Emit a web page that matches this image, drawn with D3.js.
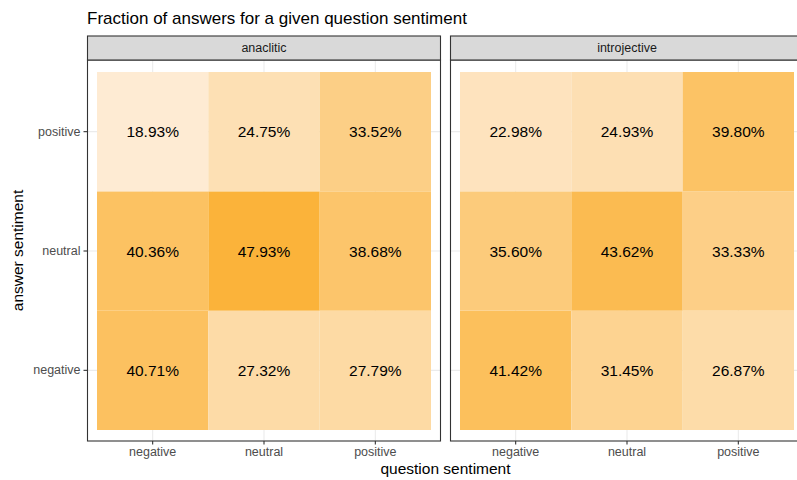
<!DOCTYPE html>
<html><head><meta charset="utf-8">
<script src="https://cdn.jsdelivr.net/npm/d3@7"></script>
<style>body{margin:0;background:#fff}svg{display:block;font-family:"Liberation Sans",Arial,sans-serif}</style>
</head><body><svg id="c" width="797" height="480"></svg>
<script>
const facets = ["anaclitic", "introjective"];
const questionCats = ["negative", "neutral", "positive"];
const answerCats = ["negative", "neutral", "positive"];
// values[facet][answer][question], percent
const anacliticPositive = [18.93, 24.75, 33.52];
const anacliticNeutral  = [40.36, 47.93, 38.68];
const anacliticNegative = [40.71, 27.32, 27.79];
const introjectivePositive = [22.98, 24.93, 39.80];
const introjectiveNeutral  = [35.60, 43.62, 33.33];
const introjectiveNegative = [41.42, 31.45, 26.87];

const tableRows = {
  anaclitic: {positive: anacliticPositive, neutral: anacliticNeutral, negative: anacliticNegative},
  introjective: {positive: introjectivePositive, neutral: introjectiveNeutral, negative: introjectiveNegative}
};
const cells = [];
facets.forEach(f => answerCats.forEach(a => questionCats.forEach((q, i) => cells.push({facet: f, answer: a, question: q, value: tableRows[f][a][i]}))));

const svg = d3.select("#c");
const panelW = 354, panelTop = 60, panelBot = 441, stripTop = 36;
const panelLeft = {anaclitic: 87, introjective: 450};
const vals = cells.map(d => d.value);
const color = d3.scaleLinear().domain([d3.min(vals), d3.max(vals)]).range(["#FEEBD3", "#FBB33A"]).interpolate(d3.interpolateRgb);

const y = d3.scaleBand().domain(["positive", "neutral", "negative"]).range([panelTop + 12, panelBot - 11]).paddingInner(0);

svg.append("text").attr("x", 87).attr("y", 24).attr("font-size", 17).attr("fill", "#000").text("Fraction of answers for a given question sentiment");

facets.forEach(f => {
  const L = panelLeft[f];
  const x = d3.scaleBand().domain(questionCats).range([L + 10, L + panelW - 10]).paddingInner(0);
  const g = svg.append("g");
  g.append("rect").attr("x", L).attr("y", panelTop).attr("width", panelW).attr("height", panelBot - panelTop).attr("fill", "#fff");
  questionCats.forEach(q => g.append("line").attr("x1", x(q) + x.bandwidth()/2).attr("x2", x(q) + x.bandwidth()/2).attr("y1", panelTop).attr("y2", panelBot).attr("stroke", "#EBEBEB").attr("stroke-width", 1.1));
  answerCats.forEach(a => g.append("line").attr("y1", y(a) + y.bandwidth()/2).attr("y2", y(a) + y.bandwidth()/2).attr("x1", L).attr("x2", L + panelW).attr("stroke", "#EBEBEB").attr("stroke-width", 1.1));
  const data = cells.filter(d => d.facet === f);
  g.selectAll("rect.tile").data(data).join("rect").attr("class", "tile")
    .attr("x", d => x(d.question)).attr("y", d => y(d.answer))
    .attr("width", x.bandwidth()).attr("height", y.bandwidth())
    .attr("fill", d => color(d.value));
  g.selectAll("text.lab").data(data).join("text").attr("class", "lab")
    .attr("x", d => x(d.question) + x.bandwidth()/2).attr("y", d => y(d.answer) + y.bandwidth()/2)
    .attr("text-anchor", "middle").attr("dominant-baseline", "central")
    .attr("font-size", 15.5).attr("fill", "#000")
    .text(d => d.value.toFixed(2) + "%");
  g.append("rect").attr("x", L + 0.5).attr("y", panelTop).attr("width", panelW - 1).attr("height", panelBot - panelTop).attr("fill", "none").attr("stroke", "#333333").attr("stroke-width", 1.1);
  g.append("rect").attr("x", L + 0.5).attr("y", stripTop).attr("width", panelW - 1).attr("height", panelTop - stripTop).attr("fill", "#D9D9D9").attr("stroke", "#333333").attr("stroke-width", 1.1);
  g.append("text").attr("x", L + panelW/2).attr("y", (stripTop + panelTop)/2).attr("text-anchor", "middle").attr("dominant-baseline", "central").attr("font-size", 12.5).attr("fill", "#1A1A1A").text(f);
  const xa = svg.append("g").attr("transform", `translate(0,${panelBot})`).call(d3.axisBottom(x).tickSize(3.5).tickPadding(3));
  xa.select(".domain").remove();
  xa.selectAll("line").attr("stroke", "#333333").attr("stroke-width", 1.1);
  xa.selectAll("text").attr("font-size", 12.5).attr("fill", "#4D4D4D").attr("font-family", "Liberation Sans, Arial, sans-serif");
});

const ya = svg.append("g").attr("transform", `translate(${panelLeft.anaclitic},0)`).call(d3.axisLeft(y).tickSize(3.5).tickPadding(3));
ya.select(".domain").remove();
ya.selectAll("line").attr("stroke", "#333333").attr("stroke-width", 1.1);
ya.selectAll("text").attr("font-size", 12.5).attr("fill", "#4D4D4D").attr("font-family", "Liberation Sans, Arial, sans-serif");

svg.append("text").attr("x", (87 + 804)/2).attr("y", 474).attr("text-anchor", "middle").attr("font-size", 15.5).attr("fill", "#000").text("question sentiment");
svg.append("text").attr("transform", `translate(23,${(panelTop + panelBot)/2}) rotate(-90)`).attr("text-anchor", "middle").attr("font-size", 15.5).attr("fill", "#000").text("answer sentiment");
</script></body></html>
